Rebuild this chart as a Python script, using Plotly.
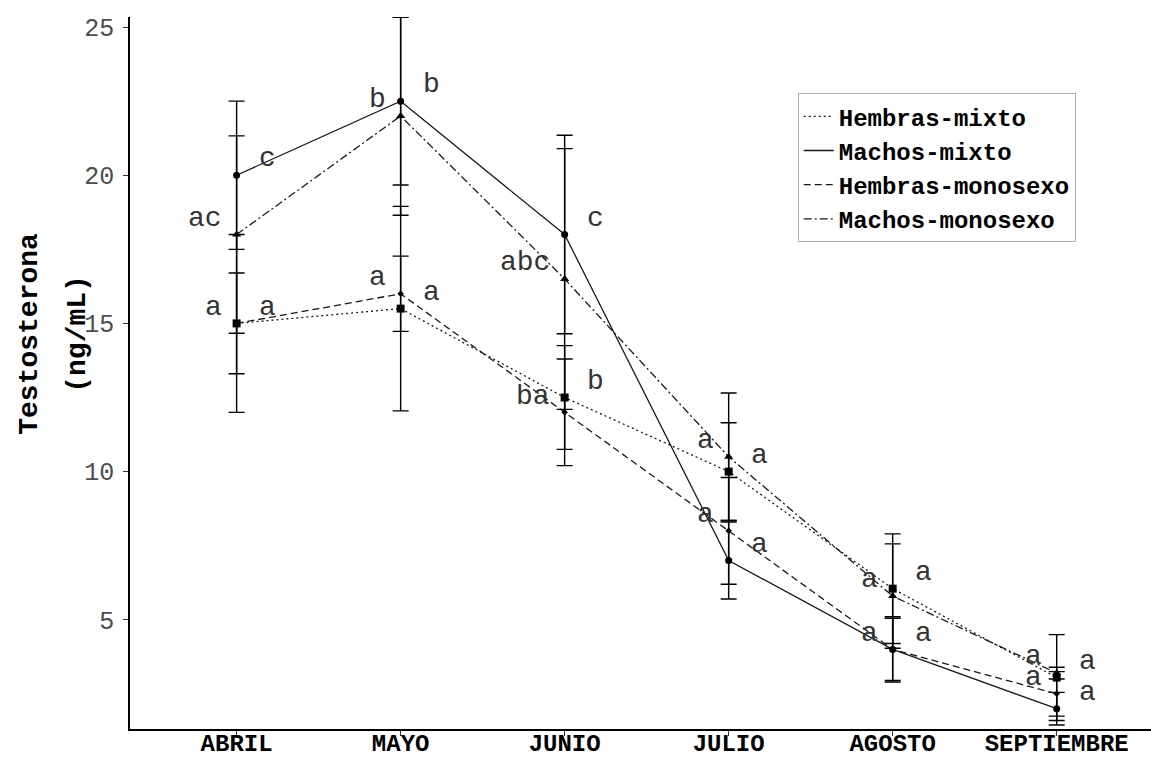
import plotly.graph_objects as go

months = ["ABRIL", "MAYO", "JUNIO", "JULIO", "AGOSTO", "SEPTIEMBRE"]

hm_mean = [15.0, 15.5, 12.5, 10.0, 6.05, 3.05]   # Hembras-mixto
hm_err = [3.0, 3.45, 1.75, 1.65, 1.85, 1.45]
mm_mean = [20.0, 22.5, 18.0, 7.0, 4.0, 2.0]      # Machos-mixto
mm_err = [2.5, 2.83, 3.35, 1.3, 1.1, 0.55]
hs_mean = [15.0, 16.0, 12.0, 8.0, 4.0, 2.5]      # Hembras-monosexo
hs_err = [1.7, 1.27, 1.8, 1.8, 1.05, 0.75]
ms_mean = [18.0, 22.0, 16.5, 10.5, 5.8, 3.2]     # Machos-monosexo
ms_err = [3.33, 3.35, 4.4, 2.15, 1.76, 0.2]

hm_lab = ["a", "a", "b", "a", "a", "a"]
mm_lab = ["c", "b", "c", "a", "a", "a"]
hs_lab = ["a", "a", "ba", "a", "a", "a"]
ms_lab = ["ac", "b", "abc", "a", "a", "a"]

names = ["Hembras-mixto", "Machos-mixto", "Hembras-monosexo", "Machos-monosexo"]

xi = list(range(len(months)))
MONO = "Liberation Mono, Courier New, monospace"
INK = "#1a1a1a"

series = [
    (names[0], hm_mean, hm_err, "2px,3px", "square", 8, hm_lab, "right"),
    (names[1], mm_mean, mm_err, "solid", "circle", 7, mm_lab, "right"),
    (names[2], hs_mean, hs_err, "7px,4px", "diamond", 5, hs_lab, "left"),
    (names[3], ms_mean, ms_err, "8px,3px,2px,3px", "triangle-up", 8, ms_lab, "left"),
]

fig = go.Figure()
annotations = []
for name, mean, err, dash, sym, msize, labs, side in series:
    fig.add_trace(go.Scatter(
        x=xi, y=mean, mode="lines+markers", showlegend=False, name=name,
        line=dict(color=INK, width=1.3, dash=dash),
        marker=dict(symbol=sym, size=msize, color="black"),
        error_y=dict(type="data", array=err, visible=True, color="black",
                     thickness=1.4, width=8),
    ))
    for i, (v, t) in enumerate(zip(mean, labs)):
        if side == "left":
            annotations.append(dict(x=i - 0.075, y=v + 0.55, xref="x", yref="y",
                                    text=t, showarrow=False, xanchor="right",
                                    yanchor="middle",
                                    font=dict(family=MONO, size=28, color="#333333")))
        else:
            annotations.append(dict(x=i + 0.125, y=v + 0.55, xref="x", yref="y",
                                    text=t, showarrow=False, xanchor="left",
                                    yanchor="middle",
                                    font=dict(family=MONO, size=28, color="#333333")))

# legend entries (line samples only)
for name, mean, err, dash, sym, msize, labs, side in series:
    fig.add_trace(go.Scatter(
        x=[None], y=[None], mode="lines", name=name, showlegend=True,
        line=dict(color=INK, width=1.3, dash=dash),
    ))

annotations.append(dict(x=-0.098, y=0.555, xref="paper", yref="paper",
                        text="<b>Testosterona</b>", showarrow=False, textangle=-90,
                        xanchor="center", yanchor="middle",
                        font=dict(family=MONO, size=28, color="black")))
annotations.append(dict(x=-0.051, y=0.555, xref="paper", yref="paper",
                        text="<b>(ng/mL)</b>", showarrow=False, textangle=-90,
                        xanchor="center", yanchor="middle",
                        font=dict(family=MONO, size=28, color="black")))

fig.update_layout(
    width=1151, height=757,
    margin=dict(l=130, r=0, t=17, b=28),
    paper_bgcolor="white", plot_bgcolor="white",
    annotations=annotations,
    showlegend=True,
    legend=dict(x=0.654, y=0.893, xanchor="left", yanchor="top",
                bordercolor="#b0b0b0", borderwidth=1, bgcolor="white",
                font=dict(family=MONO, size=24, color="black", weight="bold"),
                itemwidth=30, tracegroupgap=0),
    xaxis=dict(range=[-0.65, 5.575], tickmode="array", tickvals=xi, ticktext=months,
               automargin=False, ticklabelstandoff=-14,
               showline=True, linecolor="black", linewidth=1.5, showgrid=False,
               zeroline=False, ticks="outside", ticklen=5, tickcolor="#333333",
               tickfont=dict(family=MONO, size=24, color="black", weight="bold")),
    yaxis=dict(range=[1.314, 25.34], tickvals=[5, 10, 15, 20, 25],
               automargin=False, ticklabelstandoff=4,
               showline=True, linecolor="black", linewidth=1.5, showgrid=False,
               zeroline=False, ticks="outside", ticklen=5, tickcolor="#333333",
               tickfont=dict(family=MONO, size=25, color="#4d4d4d")),
)

fig.write_html("out.html")
